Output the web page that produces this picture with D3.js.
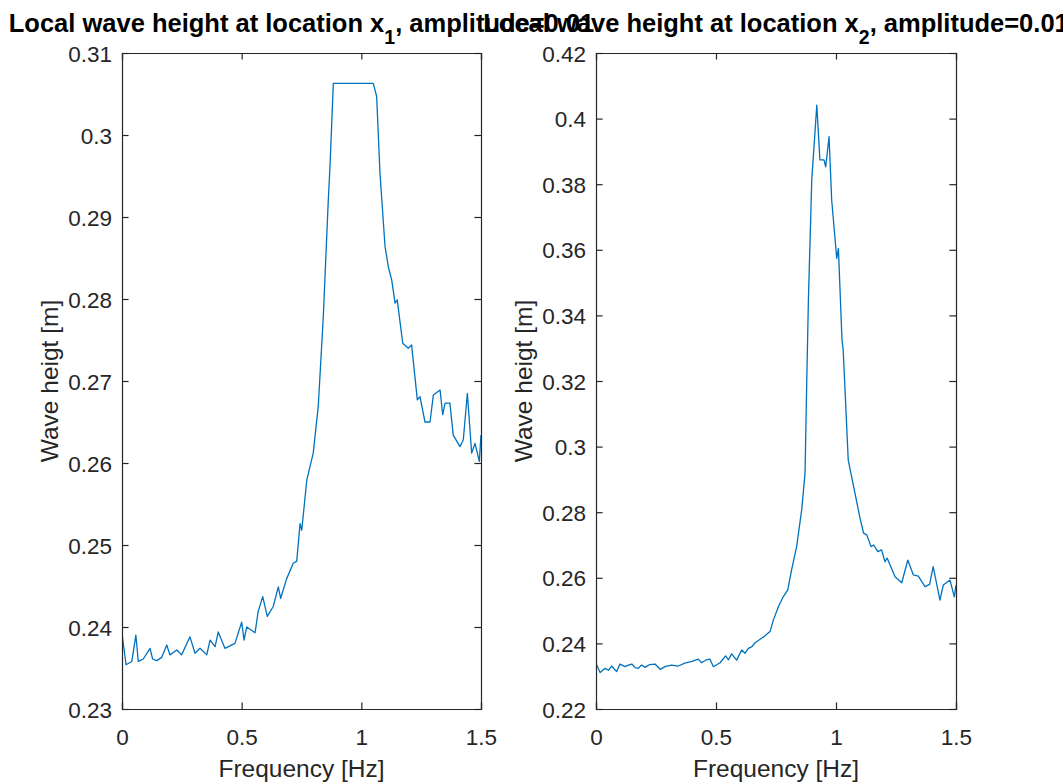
<!DOCTYPE html>
<html>
<head>
<meta charset="utf-8">
<script src="https://cdn.jsdelivr.net/npm/d3@7"></script>
<style>
  html, body { margin: 0; padding: 0; background: #fff; }
  svg { display: block; font-family: "Liberation Sans", Arial, Helvetica, sans-serif; }
</style>
</head>
<body>
<svg id="chart" width="1063" height="784"></svg>
<script>
// ---- Data ----
const freq1 = [0.000,0.017,0.041,0.058,0.068,0.089,0.117,0.128,0.145,0.166,0.187,0.200,0.229,0.249,0.284,0.305,0.326,0.354,0.368,0.389,0.402,0.430,0.472,0.500,0.510,0.521,0.556,0.569,0.588,0.607,0.632,0.653,0.663,0.688,0.716,0.730,0.744,0.751,0.772,0.799,0.820,0.841,0.862,0.869,0.883,1.050,1.064,1.078,1.099,1.113,1.127,1.141,1.150,1.173,1.196,1.210,1.234,1.245,1.266,1.287,1.301,1.329,1.340,1.350,1.370,1.384,1.412,1.426,1.443,1.461,1.475,1.493,1.500];
const height1 = [0.2392,0.2354,0.2358,0.2390,0.2358,0.2361,0.2374,0.2361,0.2359,0.2363,0.2378,0.2366,0.2372,0.2366,0.2388,0.2368,0.2374,0.2366,0.2384,0.2376,0.2394,0.2374,0.2380,0.2406,0.2384,0.2400,0.2393,0.2419,0.2437,0.2413,0.2425,0.2449,0.2435,0.2459,0.2478,0.2480,0.2526,0.2518,0.2579,0.2612,0.2669,0.2778,0.2921,0.2961,0.3063,0.3063,0.3047,0.2953,0.2864,0.2839,0.2823,0.2795,0.2799,0.2746,0.2740,0.2744,0.2677,0.2681,0.2650,0.2650,0.2683,0.2689,0.2659,0.2673,0.2673,0.2634,0.2620,0.2628,0.2685,0.2612,0.2624,0.2602,0.2634];

const freq2 = [0.000,0.017,0.038,0.052,0.065,0.076,0.086,0.100,0.121,0.135,0.149,0.163,0.176,0.190,0.205,0.222,0.246,0.267,0.290,0.315,0.343,0.370,0.400,0.426,0.440,0.460,0.475,0.489,0.517,0.540,0.552,0.565,0.586,0.607,0.621,0.635,0.650,0.663,0.704,0.725,0.739,0.760,0.780,0.799,0.815,0.836,0.857,0.871,0.878,0.885,0.899,0.920,0.933,0.950,0.957,0.971,0.982,1.003,1.010,1.025,1.030,1.051,1.079,1.100,1.115,1.128,1.146,1.157,1.174,1.190,1.204,1.213,1.246,1.274,1.299,1.322,1.343,1.371,1.390,1.405,1.433,1.447,1.475,1.493,1.500];
const height2 = [0.2339,0.2311,0.2324,0.2318,0.2331,0.2322,0.2314,0.2337,0.2329,0.2334,0.2337,0.2326,0.2324,0.2334,0.2327,0.2335,0.2337,0.2321,0.2330,0.2334,0.2331,0.2340,0.2345,0.2352,0.2341,0.2350,0.2352,0.2329,0.2341,0.2362,0.2350,0.2368,0.2349,0.2380,0.2370,0.2385,0.2390,0.2402,0.2423,0.2436,0.2471,0.2512,0.2542,0.2563,0.2624,0.2695,0.2807,0.2919,0.3193,0.3447,0.3813,0.4041,0.3874,0.3874,0.3853,0.3945,0.3752,0.3574,0.3604,0.3325,0.3294,0.2959,0.2858,0.2782,0.2736,0.2731,0.2695,0.2700,0.2680,0.2685,0.2649,0.2660,0.2603,0.2585,0.2654,0.2609,0.2605,0.2573,0.2580,0.2634,0.2532,0.2578,0.2593,0.2542,0.2578];

const xTicks = [0, 0.5, 1, 1.5];
const yTicks1 = [0.23,0.24,0.25,0.26,0.27,0.28,0.29,0.30,0.31];
const yTicks2 = [0.22,0.24,0.26,0.28,0.30,0.32,0.34,0.36,0.38,0.40,0.42];
const xDomain = [0, 1.5];
const yDomain1 = [0.23, 0.31];
const yDomain2 = [0.22, 0.42];
const titleMain = "Local wave height at location x";
const titleSub1 = "1";
const titleSub2 = "2";
const titleTail = ", amplitude=0.01";
const xLabel = "Frequency [Hz]";
const yLabel = "Wave heigt [m]";

// ---- Drawing ----
const svg = d3.select("#chart");
svg.append("rect").attr("width", 1063).attr("height", 784).attr("fill", "#fff");

const axisColor = "#262626";
const lineColor = "#0072BD";
const plotTop = 53, plotBottom = 709;

function fmt(v) {
  return d3.format("")(+v.toFixed(4));
}

function panel(left, right, yDomain, yTicks, freq, vals, sub) {
  const x = d3.scaleLinear().domain(xDomain).range([left, right]);
  const y = d3.scaleLinear().domain(yDomain).range([plotBottom, plotTop]);
  const g = svg.append("g");
  const tl = 6.6;

  const clipId = "clip" + sub;
  svg.append("clipPath").attr("id", clipId).append("rect")
    .attr("x", left).attr("y", plotTop).attr("width", right - left).attr("height", plotBottom - plotTop);
  const line = d3.line().x(d => x(d[0])).y(d => y(d[1]));
  g.append("path")
    .datum(freq.map((f, i) => [f, vals[i]]))
    .attr("clip-path", `url(#${clipId})`)
    .attr("fill", "none").attr("stroke", lineColor).attr("stroke-width", 1.3)
    .attr("stroke-linejoin", "round")
    .attr("d", line);

  const xb = g.append("g").attr("transform", `translate(0,${plotBottom})`)
    .call(d3.axisBottom(x).tickValues(xTicks).tickSize(-tl).tickPadding(0).tickFormat(fmt));
  const xt = g.append("g").attr("transform", `translate(0,${plotTop})`)
    .call(d3.axisTop(x).tickValues(xTicks).tickSize(-tl).tickFormat(""));
  const yl = g.append("g").attr("transform", `translate(${left},0)`)
    .call(d3.axisLeft(y).tickValues(yTicks).tickSize(-tl).tickPadding(10).tickFormat(fmt));
  const yr = g.append("g").attr("transform", `translate(${right},0)`)
    .call(d3.axisRight(y).tickValues(yTicks).tickSize(-tl).tickFormat(""));

  [xb, xt, yl, yr].forEach(a => {
    a.select(".domain").attr("stroke", axisColor).attr("stroke-width", 1.2);
    a.selectAll(".tick line").attr("stroke", axisColor).attr("stroke-width", 1.2);
    a.selectAll(".tick text").attr("fill", axisColor)
      .style("font-family", '"Liberation Sans", Arial, sans-serif')
      .style("font-size", "22.5px");
  });
  xb.selectAll(".tick text").attr("dy", null).attr("y", 36);
  yl.selectAll(".tick text").attr("dy", "0.36em");

  g.append("text")
    .attr("x", (left + right) / 2).attr("y", 777)
    .attr("text-anchor", "middle").attr("fill", axisColor)
    .style("font-size", "24.5px").text(xLabel);
  g.append("text")
    .attr("transform", `translate(${left - 64},${(plotTop + plotBottom) / 2}) rotate(-90)`)
    .attr("text-anchor", "middle").attr("fill", axisColor)
    .style("font-size", "24.5px").text(yLabel);

  const t = g.append("text")
    .attr("x", (left + right) / 2).attr("y", 32)
    .attr("text-anchor", "middle").attr("fill", "#000")
    .style("font-size", "25.5px").style("font-weight", "bold");
  t.append("tspan").text(titleMain);
  t.append("tspan").attr("dy", 12).style("font-size", "19.5px").text(sub);
  t.append("tspan").attr("dy", -12).text(titleTail);
}

panel(122, 481, yDomain1, yTicks1, freq1, height1, titleSub1);
panel(596, 956, yDomain2, yTicks2, freq2, height2, titleSub2);
</script>
</body>
</html>
